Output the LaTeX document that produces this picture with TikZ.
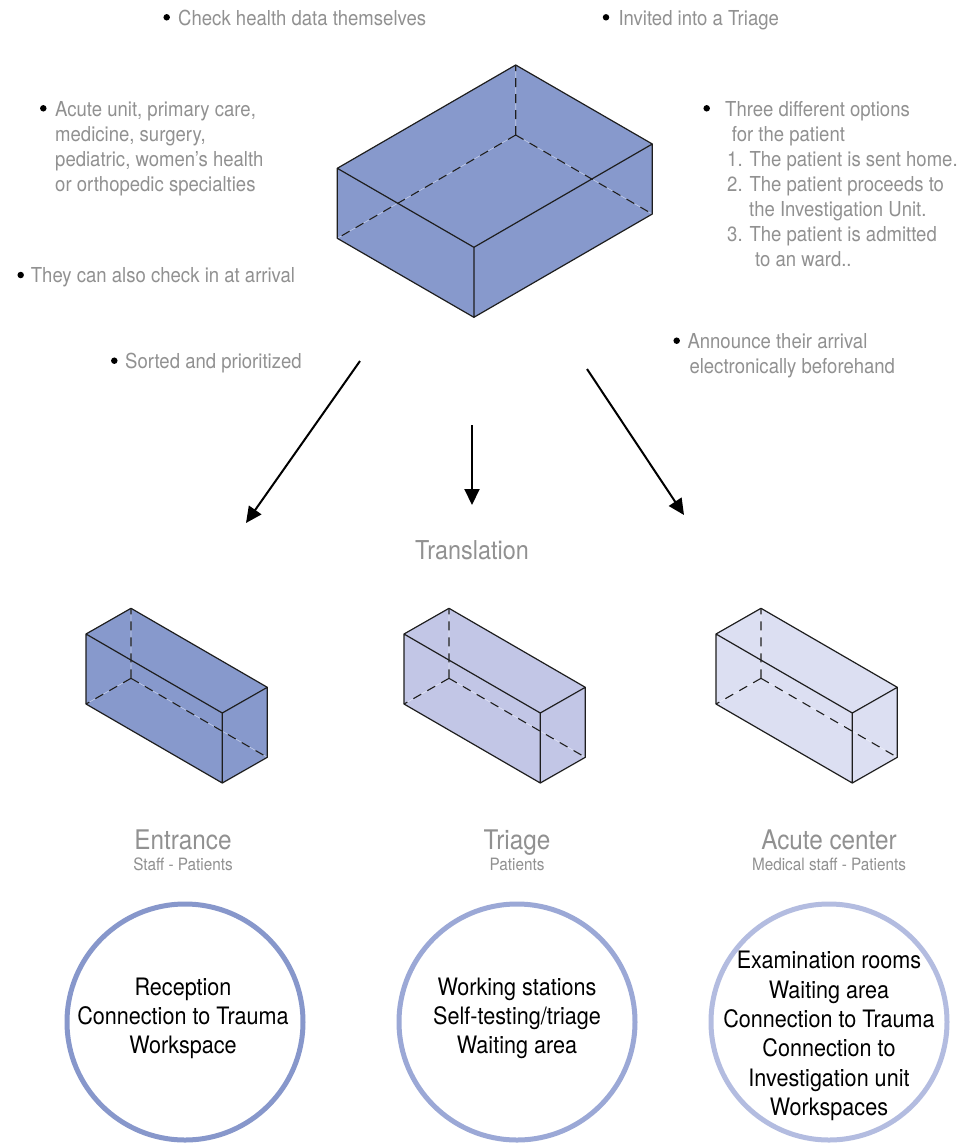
\documentclass[tikz,border=0pt]{standalone}
\usepackage{fontspec}
\setmainfont{TeX Gyre Heros}[FakeStretch=0.9]
\usetikzlibrary{arrows.meta,calc}
\definecolor{boxdark}{RGB}{135,153,204}
\definecolor{boxmid}{RGB}{194,198,230}
\definecolor{boxlight}{RGB}{220,223,242}
\definecolor{ringA}{RGB}{135,151,203}
\definecolor{ringB}{RGB}{155,168,214}
\definecolor{ringC}{RGB}{179,188,224}
\definecolor{note}{RGB}{145,145,145}
\definecolor{edge}{RGB}{30,30,30}
\tikzset{
  edgeline/.style={draw=edge, line width=1.2pt, line join=round},
  hidden/.style={draw=edge, line width=1.1pt, dash pattern=on 9pt off 7pt},
  faint/.style={draw=white, opacity=0.5, line width=0.6pt},
  notetext/.style={text=note, font=\fontsize{20.6}{25}\selectfont, inner sep=0pt, align=left},
  dot/.style={circle, fill=black, inner sep=0pt, minimum size=6.5pt},
  flow/.style={draw=black, line width=2pt, -{Triangle[length=16pt,width=15pt]}},
  titletext/.style={text=note, font=\fontsize{27}{30}\selectfont, inner sep=0pt, anchor=base},
  subtitletext/.style={text=note, font=\fontsize{17}{20}\selectfont, inner sep=0pt, anchor=base},
  ring/.style={circle, draw=#1, line width=5pt, minimum size=236pt, inner sep=0pt},
  ringtext/.style={font=\fontsize{24}{29.3}\selectfont, align=center, inner sep=0pt},
}
\newcommand{\mycuboid}[5]{%
  \coordinate (#1-b) at (#3);
  \coordinate (#1-l) at (#4);
  \coordinate (#1-r) at (#5);
  \coordinate (#1-f) at ($(#1-l)+(#1-r)-(#1-b)$);
  \coordinate (#1-hb) at ($(#1-b)+(0,70)$);
  \coordinate (#1-lb) at ($(#1-l)+(0,70)$);
  \coordinate (#1-rb) at ($(#1-r)+(0,70)$);
  \coordinate (#1-fb) at ($(#1-f)+(0,70)$);
  \fill[#2] (#1-b) -- (#1-r) -- (#1-rb) -- (#1-fb) -- (#1-lb) -- (#1-l) -- cycle;
  \draw[faint] (#1-hb) -- (#1-b) (#1-hb) -- (#1-lb) (#1-hb) -- (#1-rb);
  \draw[hidden] (#1-hb) -- (#1-b) (#1-hb) -- (#1-lb) (#1-hb) -- (#1-rb);
  \draw[edgeline] (#1-b) -- (#1-r) -- (#1-rb) -- (#1-fb) -- (#1-lb) -- (#1-l) -- cycle
     (#1-l) -- (#1-f) -- (#1-r) (#1-f) -- (#1-fb);
}
\begin{document}
\begin{tikzpicture}[x=1pt,y=-1pt]
\useasboundingbox[fill=white] (0,0) rectangle (964,1144);

% cuboids
\mycuboid{big}{boxdark}{515.7,65}{337.3,168.3}{652.3,144}
\mycuboid{ent}{boxdark}{131,608.3}{86,634}{267.3,687.3}
\mycuboid{tri}{boxmid}{449,608.3}{404,634}{585.3,687.3}
\mycuboid{acu}{boxlight}{761,608.3}{716,634}{897.3,687.3}

% notes around the big box
\node[dot] (d1) at (166.7,17.3) {};
\node[notetext, anchor=base west] (n1) at (178,25) {Check health data themselves};
\node[dot] (d2) at (606,17.3) {};
\node[notetext, anchor=base west] (n2) at (618.3,25) {Invited into a Triage};
\node[dot] (d3) at (43.3,108.3) {};
\node[notetext, anchor=north west] (n3) at (55,101.7) {Acute unit, primary care,\\medicine, surgery,\\pediatric, women's health\\or orthopedic specialties};
\node[dot] (d4) at (20.7,275) {};
\node[notetext, anchor=base west] (n4) at (30.7,282.7) {They can also check in at arrival};
\node[dot] (d5) at (114.3,360.7) {};
\node[notetext, anchor=base west] (n5) at (125,368.3) {Sorted and prioritized};
\node[dot] (d6) at (706.7,108.3) {};
\node[notetext, anchor=north west] (n6) at (725,101.7) {Three different options\\\hspace*{6.7pt}for the patient\\\hspace*{2pt}1. The patient is sent home.\\\hspace*{2pt}2. The patient proceeds to\\\hspace*{24pt}the Investigation Unit.\\\hspace*{2pt}3. The patient is admitted\\\hspace*{30pt}to an ward..};
\node[dot] (d7) at (676.7,340.7) {};
\node[notetext, anchor=north west] (n7) at (687.3,333.3) {Announce their arrival\\\hspace*{2pt}electronically beforehand};

% arrows
\coordinate (a1s) at (360,361); \coordinate (a1e) at (246,523);
\coordinate (a2s) at (472,425); \coordinate (a2e) at (472,505);
\coordinate (a3s) at (587,369); \coordinate (a3e) at (684,515);
\draw[flow] (a1s) -- (a1e);
\draw[flow] (a2s) -- (a2e);
\draw[flow] (a3s) -- (a3e);

\node[text=note, font=\fontsize{26}{30}\selectfont, inner sep=0pt, anchor=base] (trans) at (472,559.4) {Translation};

% titles
\node[titletext] (t1) at (183,849.7) {Entrance};
\node[subtitletext] (s1) at (183,870) {Staff - Patients};
\node[titletext] (t2) at (517,849.7) {Triage};
\node[subtitletext] (s2) at (517,870) {Patients};
\node[titletext] (t3) at (829,849.7) {Acute center};
\node[subtitletext] (s3) at (829,870) {Medical staff - Patients};

% rings
\node[ring=ringA] (c1) at (185,1022) {};
\node[ring=ringB] (c2) at (517,1022) {};
\node[ring=ringC] (c3) at (829,1022) {};
\node[ringtext] (r1) at (183,1018.5) {Reception\\Connection to Trauma\\Workspace};
\node[ringtext] (r2) at (517,1018.5) {Working stations\\Self-testing/triage\\Waiting area};
\node[ringtext] (r3) at (829,1036) {Examination rooms\\Waiting area\\Connection to Trauma\\Connection to\\Investigation unit\\Workspaces};
\end{tikzpicture}
\end{document}
